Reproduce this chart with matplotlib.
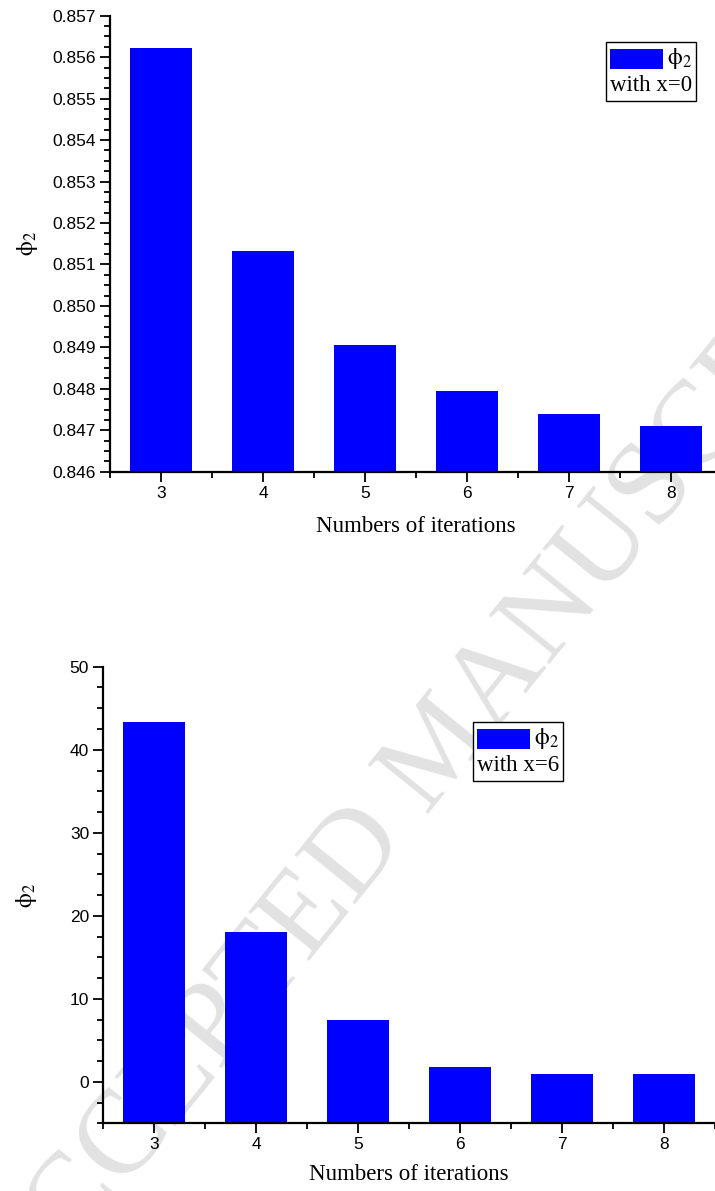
import matplotlib
matplotlib.use("Agg")
import matplotlib.pyplot as plt
import numpy as np
from matplotlib.ticker import MultipleLocator, FormatStrFormatter
from matplotlib.offsetbox import AnchoredOffsetbox, DrawingArea, TextArea, HPacker, VPacker
from matplotlib.patches import Rectangle

plt.rcParams['font.family'] = ['Liberation Sans', 'DejaVu Sans']
plt.rcParams['mathtext.fontset'] = 'stix'

iterations = [3, 4, 5, 6, 7, 8]
phi2_x0 = [0.85622, 0.85133, 0.84906, 0.84795, 0.84739, 0.84710]
phi2_x6 = [43.4, 18.0, 7.5, 1.8, 0.9, 0.9]
legend_x0 = "with x=0"
legend_x6 = "with x=6"

BLUE = '#0000ff'
serif = ['Liberation Serif', 'DejaVu Serif']

fig = plt.figure(figsize=(7.15, 11.91), dpi=100)

# watermark behind everything
fig.text(0.62, 0.37, "ACCEPTED MANUSCRIPT", rotation=51, fontsize=86,
         family=serif, color='#e2e2e2', ha='center', va='center', zorder=-1)


def legend_box(ax, text, loc_xy):
    # sizes in points (dpi 100 -> px * 0.72)
    da = DrawingArea(38, 14.5, 0, 0)
    da.add_artist(Rectangle((0, 0), 38, 14.5, facecolor=BLUE, edgecolor='none'))
    lab = TextArea(r'$\mathrm{\phi}_{\mathrm{2}}$', textprops=dict(fontsize=17, family=serif))
    row = HPacker(children=[da, lab], align='center', pad=0, sep=3)
    txt = TextArea(text, textprops=dict(fontsize=16.5, family=serif))
    box = VPacker(children=[row, txt], align='left', pad=0, sep=3)
    anc = AnchoredOffsetbox(loc='upper left', child=box, pad=0.3, borderpad=0,
                            frameon=True, bbox_to_anchor=loc_xy,
                            bbox_transform=fig.transFigure)
    anc.patch.set_edgecolor('black')
    anc.patch.set_linewidth(1.0)
    ax.add_artist(anc)


def style_axes(ax, ymaj, ymin, fmt):
    ax.set_facecolor('none')
    ax.spines['top'].set_visible(False)
    ax.spines['right'].set_visible(False)
    ax.spines['left'].set_linewidth(1.6)
    ax.spines['bottom'].set_linewidth(1.6)
    ax.set_xlim(2.5, 8.5)
    ax.set_xticks(iterations)
    ax.set_xticks(np.arange(2.5, 9, 1), minor=True)
    ax.yaxis.set_major_locator(MultipleLocator(ymaj))
    ax.yaxis.set_minor_locator(MultipleLocator(ymin))
    ax.yaxis.set_major_formatter(FormatStrFormatter(fmt))
    ax.tick_params(axis='both', which='major', direction='out', length=7, width=1.3,
                   labelsize=12.5, pad=3)
    ax.tick_params(axis='both', which='minor', direction='out', length=4, width=1.3)
    ax.set_xlabel("Numbers of iterations", fontsize=16.5, family=serif)
    ax.set_ylabel(r'$\mathrm{\phi}_{\mathrm{2}}$', fontsize=17)


# top panel
ax1 = fig.add_axes([0.1538, 0.6039, 0.856, 0.3829])
base1 = 0.846
ax1.bar(iterations, np.array(phi2_x0) - base1, bottom=base1, width=0.61, color=BLUE)
ax1.set_ylim(0.846, 0.857)
style_axes(ax1, 0.001, 0.00025, '%.3f')
ax1.xaxis.set_label_coords(0.5, -0.098)
ax1.yaxis.set_label_coords(-0.115, 0.5)
legend_box(ax1, legend_x0, (606 / 715, 1 - 42 / 1191))

# bottom panel
ax2 = fig.add_axes([0.1441, 0.0567, 0.856, 0.3835])
base2 = -5
ax2.bar(iterations, np.array(phi2_x6) - base2, bottom=base2, width=0.61, color=BLUE)
ax2.set_ylim(-5, 50)
style_axes(ax2, 10, 2.5, '%d')
ax2.xaxis.set_label_coords(0.5, -0.088)
ax2.yaxis.set_label_coords(-0.105, 0.5)
legend_box(ax2, legend_x6, (473 / 715, 1 - 722 / 1191))

fig.savefig("out.png", dpi=100)
